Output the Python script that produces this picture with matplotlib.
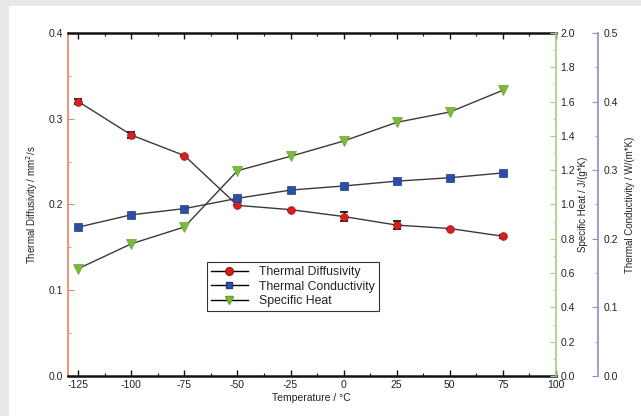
import numpy as np
import matplotlib.pyplot as plt
from matplotlib.patches import Rectangle
from matplotlib.lines import Line2D
from matplotlib.ticker import MultipleLocator

plt.rcParams['font.family'] = ['Liberation Sans', 'DejaVu Sans']
plt.rcParams['axes.unicode_minus'] = False

# measured data
temp = [-125, -100, -75, -50, -25, 0, 25, 50, 75]
diffusivity = [0.320, 0.281, 0.257, 0.199, 0.194, 0.186, 0.176, 0.172, 0.163]      # mm^2/s
diffusivity_err = [0.003, 0.003, 0.0, 0.0, 0.0, 0.005, 0.005, 0.0, 0.002]
conductivity = [0.217, 0.235, 0.244, 0.259, 0.271, 0.277, 0.284, 0.289, 0.296]    # W/(m*K)
specific_heat = [0.626, 0.771, 0.869, 1.197, 1.281, 1.370, 1.479, 1.539, 1.666]   # J/(g*K)

c_red = '#d42222'
c_blue = '#2c4ea6'
c_green = '#7cba3a'
c_line = '#3a3a3a'
txt = '#222222'

fig = plt.figure(figsize=(6.41, 4.16), dpi=100, facecolor='#e8e8e8')
fig.patches.append(Rectangle((9 / 641, 0), 1, 1 - 6 / 416, transform=fig.transFigure,
                             facecolor='white', edgecolor='none', zorder=-10))

ax = fig.add_axes([67.7 / 641, 1 - 376 / 416, 488.1 / 641, 343 / 416])
ax.set_facecolor('none')
ax2 = ax.twinx()
ax3 = ax.twinx()
ax3.spines['right'].set_position(('axes', 1.0865))

# thermal diffusivity, left axis
ax.errorbar(temp, diffusivity, yerr=diffusivity_err, fmt='none', ecolor='black',
            elinewidth=1.0, capsize=3, capthick=1.2, zorder=3)
ax.plot(temp, diffusivity, color=c_line, lw=1.0, zorder=2)
ax.plot(temp, diffusivity, 'o', color=c_red, ms=5.5, mec='#b01010', mew=0.6, zorder=4)

# specific heat, inner right axis
ax2.plot(temp, specific_heat, color=c_line, lw=1.0)
ax2.plot(temp, specific_heat, 'v', color=c_green, ms=6.5, mec='#6aa030', mew=0.5)

# thermal conductivity, outer right axis
ax3.plot(temp, conductivity, color=c_line, lw=1.0)
ax3.plot(temp, conductivity, 's', color=c_blue, ms=6, mec='#1e3a8a', mew=0.5)

ax.set_xlim(-130, 100)
ax.set_ylim(0, 0.4)
ax2.set_ylim(0, 2.0)
ax3.set_ylim(0, 0.5)

ax.xaxis.set_major_locator(MultipleLocator(25))
ax.xaxis.set_minor_locator(MultipleLocator(12.5))
ax.yaxis.set_major_locator(MultipleLocator(0.1))
ax.yaxis.set_minor_locator(MultipleLocator(0.05))
ax2.yaxis.set_major_locator(MultipleLocator(0.2))
ax2.yaxis.set_minor_locator(MultipleLocator(0.1))
ax3.yaxis.set_major_locator(MultipleLocator(0.1))
ax3.yaxis.set_minor_locator(MultipleLocator(0.05))

ax.yaxis.set_major_formatter(lambda v, p: f'{v:.1f}')
ax2.yaxis.set_major_formatter(lambda v, p: f'{v:.1f}')
ax3.yaxis.set_major_formatter(lambda v, p: f'{v:.1f}')

# spines
for s in ['top', 'bottom']:
    ax.spines[s].set_color('#111111')
    ax.spines[s].set_linewidth(1.8)
ax.spines['left'].set_color('#e8845c')
ax.spines['left'].set_linewidth(1.2)
ax.spines['right'].set_visible(False)
for s in ['top', 'bottom', 'left']:
    ax2.spines[s].set_visible(False)
    ax3.spines[s].set_visible(False)
ax2.spines['right'].set_color('#a8d27a')
ax2.spines['right'].set_linewidth(1.2)
ax3.spines['right'].set_color('#8a8fd0')
ax3.spines['right'].set_linewidth(1.2)

fs = 7.5
ax.tick_params(axis='x', which='both', direction='in', top=True, colors='#111111',
               labelcolor=txt, labelsize=fs, pad=3)
ax.tick_params(axis='x', which='major', length=4, width=1)
ax.tick_params(axis='x', which='minor', length=2.5, width=0.8)
ax.tick_params(axis='y', which='both', direction='in', colors='#e8845c',
               labelcolor=txt, labelsize=fs)
ax.tick_params(axis='y', which='major', length=4)
ax.tick_params(axis='y', which='minor', length=2.5)
ax2.tick_params(axis='y', which='both', direction='in', colors='#a8d27a',
                labelcolor=txt, labelsize=fs)
ax2.tick_params(axis='y', which='major', length=4)
ax2.tick_params(axis='y', which='minor', length=2.5)
ax3.tick_params(axis='y', which='both', direction='in', colors='#8a8fd0',
                labelcolor=txt, labelsize=fs, pad=4)
ax3.tick_params(axis='y', which='major', length=4)
ax3.tick_params(axis='y', which='minor', length=2.5)

ax.set_xlabel('Temperature / °C', fontsize=fs, color=txt, labelpad=2)
ax.set_ylabel('Thermal Diffusivity / mm$^2$/s', fontsize=7, color=txt, labelpad=6)
ax2.set_ylabel('Specific Heat / J/(g*K)', fontsize=7, color=txt, labelpad=2)
ax3.set_ylabel('Thermal Conductivity / W/(m*K)', fontsize=7, color=txt, labelpad=5)

handles = [
    Line2D([], [], color='black', lw=1.0, marker='o', mfc=c_red, mec='#b01010', ms=5.5),
    Line2D([], [], color='black', lw=1.0, marker='s', mfc=c_blue, mec='#1e3a8a', ms=5),
    Line2D([], [], color='black', lw=1.0, marker='v', mfc=c_green, mec='#6aa030', ms=5.5),
]
leg = ax3.legend(handles, ['Thermal Diffusivity', 'Thermal Conductivity', 'Specific Heat'],
                 loc='upper left', bbox_to_anchor=(0.285, 0.333), fontsize=8.8,
                 frameon=True, fancybox=False, edgecolor='#333333', framealpha=1,
                 handlelength=3.0, handletextpad=0.9, borderpad=0.35, labelspacing=0.2,
                 borderaxespad=0)
leg.get_frame().set_linewidth(0.8)
for t in leg.get_texts():
    t.set_color(txt)

fig.savefig('out.png', dpi=100, facecolor=fig.get_facecolor())
